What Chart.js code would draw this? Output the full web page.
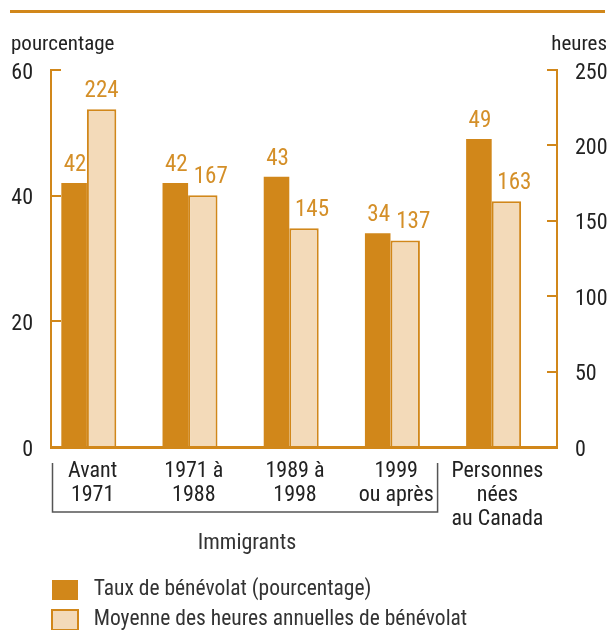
<!DOCTYPE html>
<html>
<head>
<meta charset="utf-8">
<script src="https://cdn.jsdelivr.net/npm/chart.js@4.4.1/dist/chart.umd.min.js"></script>
<style>
  html, body { margin: 0; padding: 0; background: #fff; }
  #wrap { width: 611px; height: 630px; }
</style>
</head>
<body>
<div id="wrap"><canvas id="myChart" width="611" height="630"></canvas></div>
<script>
var categories = [["Avant", "1971"], ["1971 à", "1988"], ["1989 à", "1998"], ["1999", "ou après"], ["Personnes", "nées", "au Canada"]];
var taux_benevolat = [42, 42, 43, 34, 49];
var heures_moyennes = [224, 167, 145, 137, 163];
var pct_ticks = [0, 20, 40, 60];
var heures_ticks = [0, 50, 100, 150, 200, 250];
var serie_labels = ["Taux de bénévolat (pourcentage)", "Moyenne des heures annuelles de bénévolat"];
var unite_gauche = "pourcentage";
var unite_droite = "heures";
var groupe_label = "Immigrants";
var nb_immigrants = 4;

var orange = "#d1871a";
var orange_txt = "#d48f28";
var peche = "#f3dab9";
var texte = "#222";
var police = "'Roboto Condensed', 'Liberation Sans Narrow', sans-serif";

Chart.defaults.font.family = police;

// decorations: top rule, unit titles, Immigrants bracket, value labels
var decor = {
  id: "decor",
  afterLayout: function(chart){
    var lg = chart.legend;
    var dx = 43.5 - lg.left;
    lg.left += dx; lg.right += dx;
    lg.top += 10.75; lg.bottom += 10.75;
  },
  afterDatasetsDraw: function(chart){
    var ctx = chart.ctx;
    var m0 = chart.getDatasetMeta(0), m1 = chart.getDatasetMeta(1);
    ctx.save();
    ctx.font = "23px " + police;
    ctx.fillStyle = orange_txt;
    ctx.textAlign = "center";
    ctx.textBaseline = "alphabetic";
    m0.data.forEach(function(bar, i){
      var b1 = m1.data[i];
      var y0 = bar.y - 12, y1 = b1.y - 12;
      ctx.fillText(taux_benevolat[i], bar.x + 1, y0);
      var x1 = b1.x;
      if(y1 > y0 - 17) x1 += 8;
      ctx.fillText(heures_moyennes[i], x1, y1);
    });
    ctx.restore();
  },
  afterDraw: function(chart){
    var ctx = chart.ctx;
    var xs = chart.scales.x;
    ctx.save();
    ctx.fillStyle = orange;
    ctx.fillRect(10, 10, 595, 3);

    ctx.fillStyle = texte;
    ctx.font = "21px " + police;
    ctx.textBaseline = "alphabetic";
    ctx.textAlign = "left";
    ctx.fillText(unite_gauche, 11, 50);
    ctx.textAlign = "right";
    ctx.fillText(unite_droite, 607, 50);

    // bracket under the immigrant groups
    var bx0 = xs.left + 1.5;
    var bx1 = xs.getPixelForValue(nb_immigrants - 0.68);
    var by0 = xs.top + 16, by1 = xs.top + 65;
    ctx.strokeStyle = "#555";
    ctx.lineWidth = 1.5;
    ctx.beginPath();
    ctx.moveTo(bx0, by0);
    ctx.lineTo(bx0, by1);
    ctx.lineTo(bx1, by1);
    ctx.lineTo(bx1, by0);
    ctx.stroke();

    ctx.fillStyle = "#333";
    ctx.font = "22px " + police;
    ctx.textAlign = "center";
    ctx.fillText(groupe_label, (bx0 + bx1) / 2 + 2, xs.top + 102);
    ctx.restore();
  }
};

var ctx_chart = document.getElementById("myChart").getContext("2d");

var chart = new Chart(ctx_chart, {
  type: "bar",
  data: {
    labels: categories,
    datasets: [
      {
        label: serie_labels[0],
        data: taux_benevolat,
        yAxisID: "y",
        backgroundColor: orange,
        borderColor: orange,
        borderWidth: 0,
        categoryPercentage: 0.815,
        barPercentage: 0.93
      },
      {
        label: serie_labels[1],
        data: heures_moyennes,
        yAxisID: "y1",
        backgroundColor: peche,
        borderColor: orange,
        borderWidth: 2,
        categoryPercentage: 0.815,
        barPercentage: 1.07
      },
      {
        // empty slot so the pair sits left of the category centre
        label: "",
        data: categories.map(function(){ return null; }),
        yAxisID: "y",
        categoryPercentage: 0.815,
        barPercentage: 1
      }
    ]
  },
  options: {
    responsive: false,
    animation: false,
    layout: { padding: { top: 70, left: 0, right: 0, bottom: 0 } },
    plugins: {
      tooltip: { enabled: false },
      legend: {
        position: "bottom",
        align: "start",
        labels: {
          boxWidth: 26,
          boxHeight: 20,
          padding: 8.5,
          color: "#333",
          font: { size: 21.5 },
          filter: function(item){ return item.datasetIndex < 2; },
          generateLabels: function(chart){
            var items = Chart.defaults.plugins.legend.labels.generateLabels(chart);
            items.forEach(function(it){ it.text = " " + it.text; });
            return items;
          }
        }
      }
    },
    scales: {
      x: {
        grid: { display: false, drawTicks: false },
        border: { display: true, color: orange, width: 3 },
        ticks: {
          color: texte,
          font: { size: 22, lineHeight: 1.1 },
          padding: 12,
          labelOffset: -9,
          maxRotation: 0,
          autoSkip: false
        },
        afterFit: function(s){ s.height = 113; }
      },
      y: {
        position: "left",
        min: 0,
        max: 60,
        afterBuildTicks: function(s){ s.ticks = pct_ticks.map(function(v){ return {value: v}; }); },
        grid: { drawOnChartArea: false, drawTicks: true, tickLength: -10, color: orange, lineWidth: 2 },
        border: { color: orange, width: 2 },
        ticks: { color: texte, font: { size: 22 }, padding: 28, labelOffset: 3 },
        afterFit: function(s){ s.width = 51; }
      },
      y1: {
        position: "right",
        min: 0,
        max: 250,
        afterBuildTicks: function(s){ s.ticks = heures_ticks.map(function(v){ return {value: v}; }); },
        grid: { drawOnChartArea: false, drawTicks: true, tickLength: -10, color: orange, lineWidth: 2 },
        border: { color: orange, width: 2 },
        ticks: { color: texte, font: { size: 22 }, padding: 28, labelOffset: 3 },
        afterFit: function(s){ s.width = 54; }
      }
    }
  },
  plugins: [decor]
});
</script>
</body>
</html>
